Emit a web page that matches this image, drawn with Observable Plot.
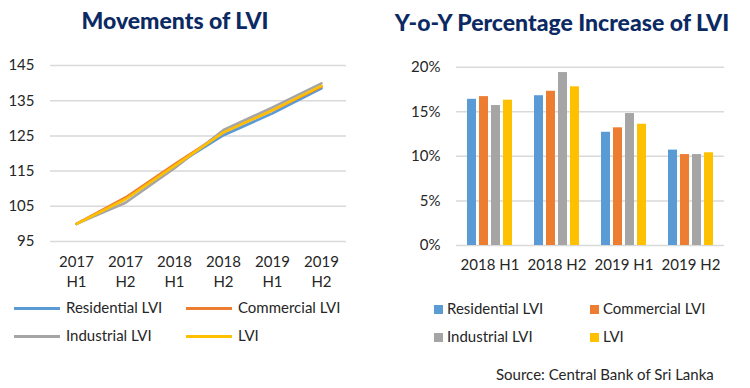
<!DOCTYPE html>
<html>
<head>
<meta charset="utf-8">
<script src="https://cdn.jsdelivr.net/npm/d3@7"></script>
<script src="https://cdn.jsdelivr.net/npm/@observablehq/plot@0.6"></script>
<style>
  html, body { margin: 0; padding: 0; background: #fff; }
  #wrap { position: relative; width: 750px; height: 388px; overflow: hidden; font-family: Lato, "Open Sans", sans-serif; color: #262626; }
  .title { position: absolute; font-weight: 900; color: #0b2a63; font-size: 23px; line-height: 28px; white-space: nowrap; transform: translateX(-50%); }
  .chart { position: absolute; top: 40px; }
  .leg { position: absolute; font-size: 15px; white-space: nowrap; line-height: 18px; }
  .line-sw { position: absolute; width: 46px; height: 3px; }
  .sq-sw { position: absolute; width: 9px; height: 9px; }
  #source { position: absolute; left: 496px; top: 365px; font-size: 15px; white-space: nowrap; }
</style>
</head>
<body>
<div id="wrap">
  <div class="title" style="left:175px; top:6px;">Movements of LVI</div>
  <div class="title" style="left:562px; top:8px;">Y-o-Y Percentage Increase of LVI</div>
  <div id="left" class="chart" style="left:0px;"></div>
  <div id="right" class="chart" style="left:375px;"></div>
  <div id="legends"></div>
  <div id="source">Source: Central Bank of Sri Lanka</div>
</div>
<script>
// ---- Data ----
const periods = ["2017 H1", "2017 H2", "2018 H1", "2018 H2", "2019 H1", "2019 H2"];
const residential = [100, 107.1, 116.5, 125.2, 131.4, 138.5];
const commercial  = [100, 107.5, 116.9, 126.0, 132.3, 139.0];
const industrial  = [100, 106.0, 115.8, 126.7, 133.1, 139.9];
const lvi         = [100, 107.0, 116.5, 126.0, 132.3, 139.2];
const indexTicks = [95, 105, 115, 125, 135, 145];

const yoyPeriods = ["2018 H1", "2018 H2", "2019 H1", "2019 H2"];
const yoyResidential = [16.4, 16.8, 12.7, 10.7];
const yoyCommercial  = [16.7, 17.3, 13.2, 10.2];
const yoyIndustrial  = [15.7, 19.4, 14.8, 10.2];
const yoyLvi         = [16.3, 17.8, 13.6, 10.4];
const pctTicks = [0, 5, 10, 15, 20];

const seriesNames = ["Residential LVI", "Commercial LVI", "Industrial LVI", "LVI"];
const seriesColors = ["#5B9BD5", "#ED7D31", "#A5A5A5", "#FFC000"];

// ---- Tables ----
const lineSeries = [residential, commercial, industrial, lvi];
const lineData = [];
seriesNames.forEach((s, i) => periods.forEach((p, j) => lineData.push({series: s, period: p, value: lineSeries[i][j]})));

const barSeries = [yoyResidential, yoyCommercial, yoyIndustrial, yoyLvi];
const barData = [];
yoyPeriods.forEach((p, j) => seriesNames.forEach((s, i) => barData.push({series: s, period: p, value: barSeries[i][j]})));

const font = "Lato, 'Open Sans', sans-serif";

// ---- Left: line chart ----
const left = Plot.plot({
  width: 370, height: 260,
  marginLeft: 50, marginRight: 24, marginTop: 25, marginBottom: 59,
  style: {fontFamily: font, fontSize: "15px", color: "#262626", background: "transparent"},
  x: {type: "point", domain: periods, padding: 0.5},
  y: {domain: [95, 145]},
  color: {domain: seriesNames, range: seriesColors},
  marks: [
    Plot.ruleY(indexTicks, {stroke: "#d9d9d9", strokeWidth: 1.5}),
    Plot.axisY({ticks: indexTicks, tickSize: 0, tickPadding: 16, label: null}),
    Plot.axisX({tickSize: 0, tickPadding: 11, label: null, lineHeight: 1.35,
      tickFormat: d => d.replace(" ", "\n")}),
    Plot.line(lineData, {x: "period", y: "value", z: "series", stroke: "series", strokeWidth: 2.6, strokeLinejoin: "round"})
  ]
});
document.getElementById("left").appendChild(left);

// ---- Right: grouped bar chart ----
const right = Plot.plot({
  width: 375, height: 260,
  marginLeft: 80, marginRight: 25, marginTop: 26.7, marginBottom: 55,
  style: {fontFamily: font, fontSize: "15px", color: "#262626", background: "transparent"},
  fx: {domain: yoyPeriods, padding: 0, label: null},
  x: {domain: seriesNames, paddingInner: 0.23, paddingOuter: 0.86, axis: null},
  y: {domain: [0, 20]},
  color: {domain: seriesNames, range: seriesColors},
  marks: [
    Plot.ruleY(pctTicks, {stroke: "#d9d9d9", strokeWidth: 1.5}),
    Plot.axisY({ticks: pctTicks, tickSize: 0, tickPadding: 16, label: null, tickFormat: d => d + "%"}),
    Plot.axisFx({tickSize: 0, tickPadding: 14, label: null, anchor: "bottom"}),
    Plot.barY(barData, {fx: "period", x: "series", y: "value", fill: "series"})
  ]
});
document.getElementById("right").appendChild(right);

// ---- Legends ----
const leg = document.getElementById("legends");
const lineLegPos = [[14, 308], [186, 308], [14, 336], [186, 336]];
const barLegPos = [[434, 309], [590, 309], [434, 337], [590, 337]];
seriesNames.forEach((s, i) => {
  const [lx, ly] = lineLegPos[i];
  leg.insertAdjacentHTML("beforeend",
    `<div class="line-sw" style="left:${lx}px; top:${ly - 1.5}px; background:${seriesColors[i]}"></div>` +
    `<div class="leg" style="left:${lx + 52}px; top:${ly - 10}px;">${s}</div>`);
  const [bx, by] = barLegPos[i];
  leg.insertAdjacentHTML("beforeend",
    `<div class="sq-sw" style="left:${bx}px; top:${by - 4.5}px; background:${seriesColors[i]}"></div>` +
    `<div class="leg" style="left:${bx + 13}px; top:${by - 10}px;">${s}</div>`);
});
</script>
</body>
</html>
